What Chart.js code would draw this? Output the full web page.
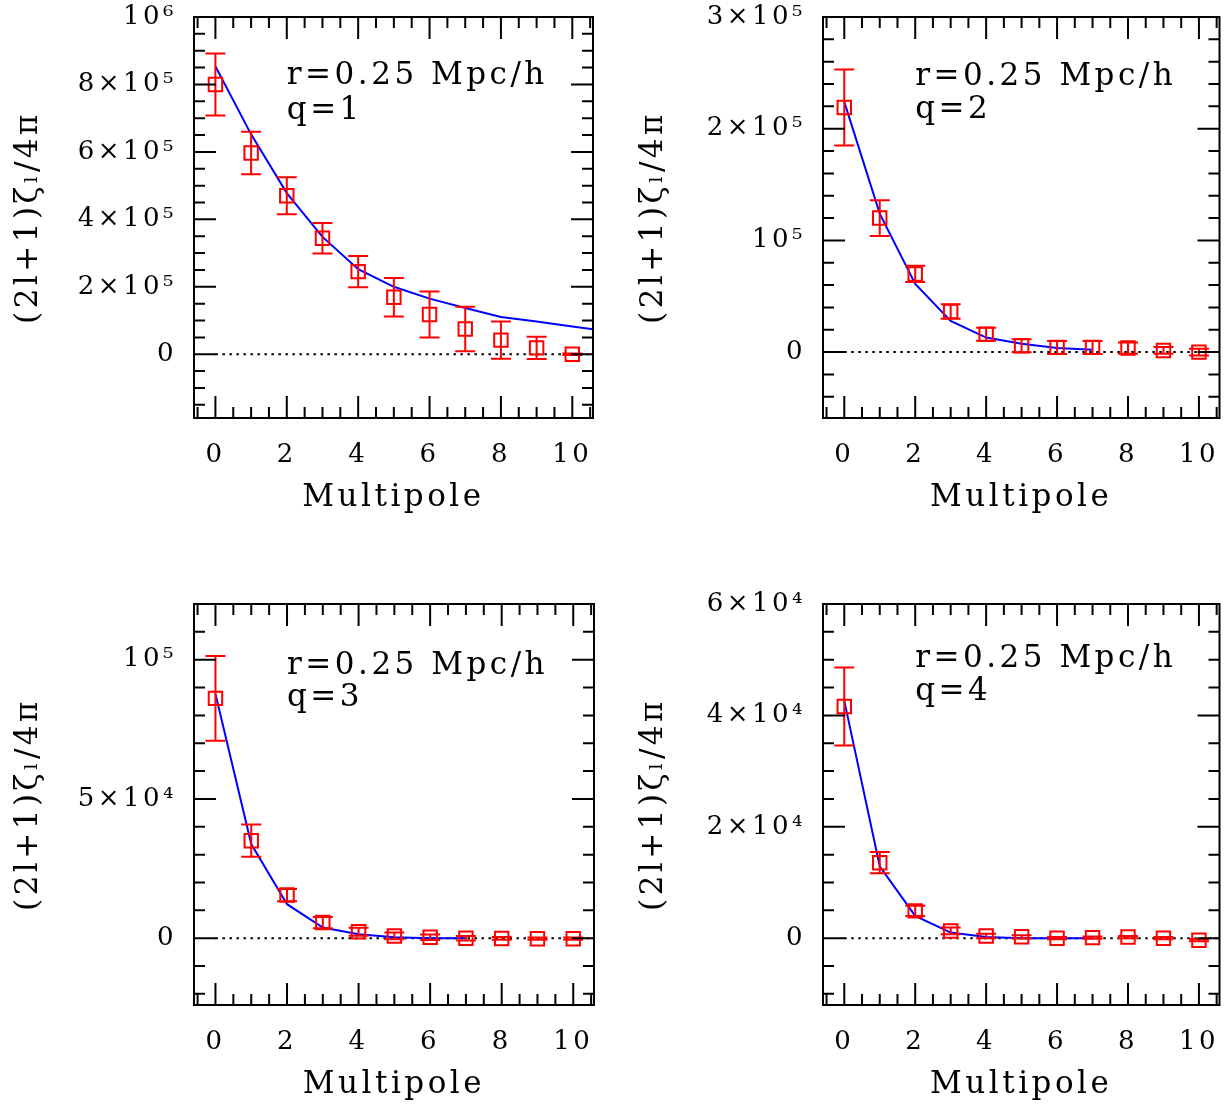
<!DOCTYPE html>
<html>
<head>
<meta charset="utf-8">
<script src="https://cdn.jsdelivr.net/npm/chart.js@4.4.1/dist/chart.umd.min.js"></script>
<style>
    html, body { margin: 0; padding: 0; background: #fff; }
    body { width: 1231px; height: 1109px; position: relative; overflow: hidden; }
    canvas { position: absolute; }
</style>
</head>
<body>
<canvas id="panel1" width="615" height="545" style="left:0px;top:0px"></canvas>
<canvas id="panel2" width="616" height="545" style="left:615px;top:0px"></canvas>
<canvas id="panel3" width="615" height="564" style="left:0px;top:545px"></canvas>
<canvas id="panel4" width="616" height="564" style="left:615px;top:545px"></canvas>
<script>
// multipole index of every measured point
const multipoles = [0, 1, 2, 3, 4, 5, 6, 7, 8, 9, 10];

// q=1
const q1Values = [8.0e5, 5.97e5, 4.70e5, 3.44e5, 2.45e5, 1.69e5, 1.18e5, 0.75e5, 0.42e5, 0.19e5, 0.0];
const q1Errors = [0.92e5, 0.63e5, 0.55e5, 0.45e5, 0.46e5, 0.57e5, 0.68e5, 0.66e5, 0.55e5, 0.33e5, 0.02e5];
const q1ModelX = [0, 1, 2, 3, 4, 5, 6, 7, 8, 9, 10, 11];
const q1Model = [8.54e5, 6.52e5, 4.78e5, 3.48e5, 2.52e5, 2.0e5, 1.65e5, 1.37e5, 1.105e5, 0.97e5, 0.82e5, 0.69e5];

// q=2
const q2Values = [2.19e5, 1.20e5, 0.70e5, 0.364e5, 0.16e5, 0.056e5, 0.042e5, 0.042e5, 0.036e5, 0.015e5, 0.0];
const q2Errors = [0.34e5, 0.16e5, 0.072e5, 0.065e5, 0.058e5, 0.058e5, 0.058e5, 0.058e5, 0.05e5, 0.03e5, 0.03e5];
const q2ModelX = [0, 1, 2, 3, 4, 5, 6, 7];
const q2Model = [2.24e5, 1.24e5, 0.61e5, 0.28e5, 0.13e5, 0.075e5, 0.036e5, 0.02e5];

// q=3
const q3Values = [0.861e5, 0.35e5, 0.155e5, 0.056e5, 0.023e5, 0.008e5, 0.003e5, 0.0, -0.001e5, -0.002e5, -0.002e5];
const q3Errors = [0.152e5, 0.058e5, 0.022e5, 0.02e5, 0.014e5, 0.012e5, 0.01e5, 0.008e5, 0.005e5, 0.004e5, 0.004e5];
const q3ModelX = [0, 1, 2, 3, 4, 5, 6, 7];
const q3Model = [0.877e5, 0.338e5, 0.122e5, 0.038e5, 0.014e5, 0.003e5, 0.0, 0.0];

// q=4
const q4Values = [4.16e4, 1.355e4, 0.49e4, 0.13e4, 0.04e4, 0.024e4, 0.0, 0.01e4, 0.02e4, 0.0, -0.036e4];
const q4Errors = [0.70e4, 0.19e4, 0.09e4, 0.06e4, 0.04e4, 0.03e4, 0.02e4, 0.02e4, 0.02e4, 0.02e4, 0.02e4];
const q4ModelX = [0, 1, 2, 3, 4, 5, 6, 7];
const q4Model = [4.26e4, 1.29e4, 0.40e4, 0.10e4, 0.02e4, 0.0, 0.0, 0.0];

// dotted zero reference line
const zeroLineX = [0, 11];

// tick labels
const xTicks = [0, 2, 4, 6, 8, 10];
const xLabels = ["0", "2", "4", "6", "8", "10"];
const yTicks1 = [0, 2e5, 4e5, 6e5, 8e5, 1e6];
const yLabels1 = ["0", "2×10⁵", "4×10⁵", "6×10⁵", "8×10⁵", "10⁶"];
const yTicks2 = [0, 1e5, 2e5, 3e5];
const yLabels2 = ["0", "10⁵", "2×10⁵", "3×10⁵"];
const yTicks3 = [0, 5e4, 1e5];
const yLabels3 = ["0", "5×10⁴", "10⁵"];
const yTicks4 = [0, 2e4, 4e4, 6e4];
const yLabels4 = ["0", "2×10⁴", "4×10⁴", "6×10⁴"];

const yTitle = "(2l+1)ζₗ/4π";
const xTitle = "Multipole";
const radiusText = "r=0.25 Mpc/h";
const qTexts = ["q=1", "q=2", "q=3", "q=4"];
// where the two text lines sit, in data units
const textX = 2;
const textY1 = [8.0e5, 6.97e5];
const textY2 = [2.39e5, 2.095e5];
const textY3 = [0.949e5, 0.835e5];
const textY4 = [4.875e4, 4.28e4];

const FONT = "'DejaVu Serif', 'Liberation Serif', serif";
Chart.defaults.font.family = FONT;
Chart.defaults.color = "#000";

const spacingPlugin = {
    id: "spacing",
    beforeDraw(chart) {
        chart.ctx.letterSpacing = "3.5px";
    },
};

const framePlugin = {
    id: "frame",
    afterDraw(chart, args, opts) {
        const { ctx, chartArea: a } = chart;
        const x = chart.scales.x;
        const y = chart.scales.y;
        ctx.save();
        ctx.strokeStyle = "#000";
        ctx.lineWidth = 2;
        ctx.beginPath();
        for (let v = Math.ceil(x.min / 0.5) * 0.5; v <= x.max; v += 0.5) {
            const px = x.getPixelForValue(v);
            const len = Math.abs(v % 2) < 1e-9 ? 22 : 11;
            ctx.moveTo(px, a.bottom);
            ctx.lineTo(px, a.bottom - len);
            ctx.moveTo(px, a.top);
            ctx.lineTo(px, a.top + len);
        }
        const step = opts.minor;
        for (let k = Math.ceil(y.min / step); k * step <= y.max + 1e-6; k++) {
            const v = k * step;
            const py = y.getPixelForValue(v);
            const len = Math.abs(v % opts.major) < 1e-6 ? 22 : 11;
            ctx.moveTo(a.left, py);
            ctx.lineTo(a.left + len, py);
            ctx.moveTo(a.right, py);
            ctx.lineTo(a.right - len, py);
        }
        ctx.stroke();
        ctx.strokeRect(a.left, a.top, a.right - a.left, a.bottom - a.top);
        ctx.restore();
    },
};

const errorBarPlugin = {
    id: "errorBars",
    afterDatasetsDraw(chart) {
        const { ctx } = chart;
        const x = chart.scales.x;
        const y = chart.scales.y;
        chart.data.datasets.forEach((ds) => {
            if (!ds.yErr) return;
            ctx.save();
            ctx.strokeStyle = ds.borderColor;
            ctx.lineWidth = 2;
            ctx.beginPath();
            ds.data.forEach((p, i) => {
                const px = x.getPixelForValue(p.x);
                const top = y.getPixelForValue(p.y + ds.yErr[i]);
                const bot = y.getPixelForValue(p.y - ds.yErr[i]);
                ctx.moveTo(px, top);
                ctx.lineTo(px, bot);
                ctx.moveTo(px - 10, top);
                ctx.lineTo(px + 10, top);
                ctx.moveTo(px - 10, bot);
                ctx.lineTo(px + 10, bot);
            });
            ctx.stroke();
            ctx.restore();
        });
    },
};

const labelPlugin = {
    id: "panelText",
    afterDraw(chart, args, opts) {
        const { ctx } = chart;
        const x = chart.scales.x;
        const y = chart.scales.y;
        ctx.save();
        ctx.fillStyle = "#000";
        ctx.font = "31px " + FONT;
        ctx.textAlign = "left";
        ctx.textBaseline = "alphabetic";
        ctx.fillText(radiusText, x.getPixelForValue(textX), y.getPixelForValue(opts.ys[0]));
        ctx.fillText(opts.q, x.getPixelForValue(textX), y.getPixelForValue(opts.ys[1]));
        ctx.restore();
    },
};

function toPoints(xs, ys) {
    return xs.map((v, i) => ({ x: v, y: ys[i] }));
}

function makePanel(p) {
    const ctx = document.getElementById(p.id).getContext("2d");
    return new Chart(ctx, {
        type: "scatter",
        data: {
            datasets: [
                {
                    label: "measured",
                    data: toPoints(multipoles, p.values),
                    yErr: p.errors,
                    pointStyle: "rect",
                    pointRadius: 9.5,
                    pointBorderWidth: 2,
                    borderColor: "#ff0000",
                    backgroundColor: "rgba(0,0,0,0)",
                    showLine: false,
                },
                {
                    label: "model",
                    data: toPoints(p.modelX, p.model),
                    showLine: true,
                    borderColor: "#0000ff",
                    borderWidth: 2,
                    pointRadius: 0,
                    tension: 0,
                },
                {
                    label: "zero",
                    data: zeroLineX.map((v) => ({ x: v, y: 0 })),
                    showLine: true,
                    borderColor: "#000",
                    borderWidth: 2,
                    borderDash: [2.5, 4.5],
                    pointRadius: 0,
                },
            ],
        },
        options: {
            responsive: false,
            animation: false,
            devicePixelRatio: 1,
            events: [],
            layout: { padding: p.padding },
            plugins: {
                legend: { display: false },
                tooltip: { enabled: false },
                frame: { minor: p.yMinor, major: p.yMajor },
                panelText: { q: p.q, ys: p.textY },
            },
            scales: {
                x: {
                    type: "linear",
                    min: -0.6,
                    max: 10.58,
                    afterBuildTicks: (s) => {
                        s.ticks = xTicks.map((v) => ({ value: v }));
                    },
                    afterFit: (s) => {
                        s.height = p.xHeight;
                        s.paddingLeft = 0;
                        s.paddingRight = 0;
                    },
                    grid: { display: false, drawTicks: false },
                    border: { display: false },
                    ticks: {
                        autoSkip: false,
                        maxRotation: 0,
                        padding: 22,
                        font: { size: 26 },
                        callback: (v) => xLabels[xTicks.indexOf(v)],
                    },
                    title: {
                        display: true,
                        text: xTitle,
                        font: { size: 31 },
                        padding: { top: 0, bottom: p.xTitlePad },
                    },
                },
                y: {
                    type: "linear",
                    min: p.yMin,
                    max: p.yMax,
                    afterBuildTicks: (s) => {
                        s.ticks = p.yTicks.map((v) => ({ value: v }));
                    },
                    afterFit: (s) => {
                        s.width = p.yWidth;
                        s.paddingTop = 0;
                        s.paddingBottom = 0;
                    },
                    grid: { display: false, drawTicks: false },
                    border: { display: false },
                    ticks: {
                        autoSkip: false,
                        padding: 17,
                        font: { size: 26 },
                        callback: (v) => p.yLabels[p.yTicks.indexOf(v)],
                    },
                    title: {
                        display: true,
                        text: yTitle,
                        font: { size: 31 },
                        padding: { top: p.yTitlePad, bottom: 0 },
                    },
                },
            },
        },
        plugins: [spacingPlugin, errorBarPlugin, framePlugin, labelPlugin],
    });
}

const charts = [
    makePanel({
        id: "panel1", q: qTexts[0], values: q1Values, errors: q1Errors, modelX: q1ModelX, model: q1Model,
        yMin: -1.89e5, yMax: 1e6, yTicks: yTicks1, yLabels: yLabels1, yMinor: 5e4, yMajor: 2e5, textY: textY1,
        padding: { left: 0, top: 17, right: 22, bottom: 0 }, yWidth: 194, xHeight: 127, yTitlePad: 10, xTitlePad: 28,
    }),
    makePanel({
        id: "panel2", q: qTexts[1], values: q2Values, errors: q2Errors, modelX: q2ModelX, model: q2Model,
        yMin: -0.59e5, yMax: 3e5, yTicks: yTicks2, yLabels: yLabels2, yMinor: 2e4, yMajor: 1e5, textY: textY2,
        padding: { left: 0, top: 17, right: 9, bottom: 0 }, yWidth: 208, xHeight: 127, yTitlePad: 20, xTitlePad: 28,
    }),
    makePanel({
        id: "panel3", q: qTexts[2], values: q3Values, errors: q3Errors, modelX: q3ModelX, model: q3Model,
        yMin: -0.24e5, yMax: 1.2e5, yTicks: yTicks3, yLabels: yLabels3, yMinor: 1e4, yMajor: 5e4, textY: textY3,
        padding: { left: 0, top: 59, right: 21, bottom: 0 }, yWidth: 194, xHeight: 104, yTitlePad: 10, xTitlePad: 5,
    }),
    makePanel({
        id: "panel4", q: qTexts[3], values: q4Values, errors: q4Errors, modelX: q4ModelX, model: q4Model,
        yMin: -1.2e4, yMax: 6e4, yTicks: yTicks4, yLabels: yLabels4, yMinor: 5e3, yMajor: 2e4, textY: textY4,
        padding: { left: 0, top: 59, right: 9, bottom: 0 }, yWidth: 208, xHeight: 104, yTitlePad: 20, xTitlePad: 5,
    }),
];
</script>
</body>
</html>
